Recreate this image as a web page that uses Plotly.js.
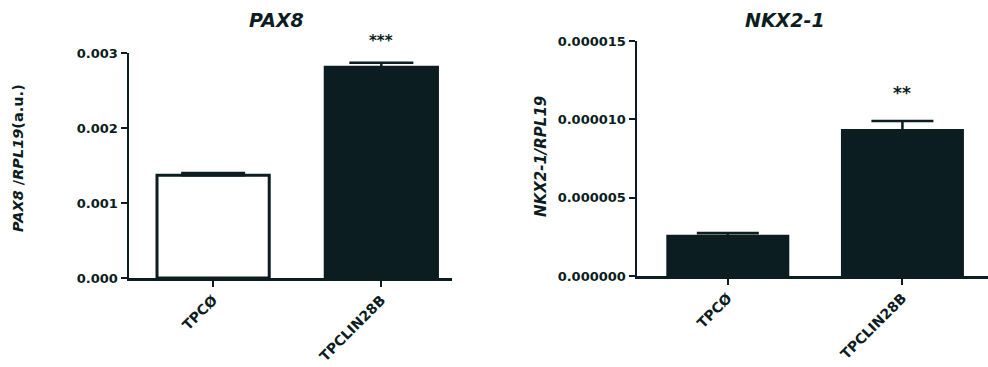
<!DOCTYPE html>
<html>
<head>
<meta charset="utf-8">
<script src="https://cdn.plot.ly/plotly-3.0.1.min.js"></script>
<style>html,body{margin:0;padding:0;background:#fff;}#chart{width:988px;height:367px;}</style>
</head>
<body>
<div id="chart"></div>
<script>
const categories = ["TPCØ", "TPCLIN28B"];
const pax8Values = [0.00137, 0.00281];
const pax8Errors = [0.00003, 0.00006];
const nkxValues = [0.00000255, 0.0000093];
const nkxErrors = [0.0000002, 0.0000006];
const pax8Sig = ["", "***"];
const nkxSig = ["", "**"];
const pax8StarY = [null, 0.00316];
const nkxStarY = [null, 0.0000117];
const pax8Max = 0.003;
const nkxMax = 0.000015;

const dark = "#0c1d21";
const font = "DejaVu Sans, Arial, sans-serif";

const traces = [
  {
    type: "bar", x: categories, y: pax8Values, xaxis: "x", yaxis: "y",
    width: 0.667,
    marker: {color: ["#ffffff", dark], line: {color: dark, width: 3}},
    error_y: {type: "data", symmetric: false, array: pax8Errors, arrayminus: [0, 0], color: dark, thickness: 2.5, width: 32},
    hoverinfo: "none"
  },
  {
    type: "bar", x: categories, y: nkxValues, xaxis: "x2", yaxis: "y2",
    width: 0.69,
    marker: {color: [dark, dark], line: {color: dark, width: 2.5}},
    error_y: {type: "data", symmetric: false, array: nkxErrors, arrayminus: [0, 0], color: dark, thickness: 2.5, width: 31},
    hoverinfo: "none"
  }
];

const annotations = [];
categories.forEach((c, i) => {
  if (pax8Sig[i]) annotations.push({xref: "x", yref: "y domain", x: c, y: pax8StarY[i] / pax8Max, xanchor: "center", yanchor: "middle", text: "<b>" + pax8Sig[i] + "</b>", showarrow: false, font: {family: font, size: 15, color: dark}});
  if (nkxSig[i]) annotations.push({xref: "x2", yref: "y2 domain", x: c, y: nkxStarY[i] / nkxMax, xanchor: "center", yanchor: "middle", text: "<b>" + nkxSig[i] + "</b>", showarrow: false, font: {family: font, size: 17, color: dark}});
});
annotations.push(
  {xref: "paper", yref: "paper", x: 276/988, y: 1 - 20/367, xanchor: "center", yanchor: "middle", text: "<b><i>PAX8</i></b>", showarrow: false, font: {family: font, size: 19, color: dark}},
  {xref: "paper", yref: "paper", x: 785/988, y: 1 - 20/367, xanchor: "center", yanchor: "middle", text: "<b><i>NKX2-1</i></b>", showarrow: false, font: {family: font, size: 19, color: dark}},
  {xref: "paper", yref: "paper", x: 18/988, y: 1 - 158/367, xanchor: "center", yanchor: "middle", text: "<b><i>PAX8</i> /<i>RPL19</i>(a.u.)</b>", textangle: -90, showarrow: false, font: {family: font, size: 14.5, color: dark}},
  {xref: "paper", yref: "paper", x: 541/988, y: 1 - 157/367, xanchor: "center", yanchor: "middle", text: "<b><i>NKX2-1/RPL19</i></b>", textangle: -90, showarrow: false, font: {family: font, size: 15, color: dark}}
);

const tickFont = {family: font, size: 13, color: dark, weight: "bold"};
const axisCommon = {showgrid: false, zeroline: false, showline: true, linecolor: dark, linewidth: 2.5, ticks: "outside", tickcolor: dark, tickwidth: 2, ticklen: 6, tickfont: tickFont, automargin: false, fixedrange: true};

const layout = {
  width: 988, height: 367,
  margin: {l: 0, r: 0, t: 0, b: 0},
  paper_bgcolor: "#ffffff", plot_bgcolor: "#ffffff",
  showlegend: false,
  xaxis: Object.assign({}, axisCommon, {domain: [129/988, 452/988], range: [-0.5, 1.42], anchor: "y", tickangle: -45, tickfont: Object.assign({}, tickFont, {size: 14})}),
  yaxis: Object.assign({}, axisCommon, {domain: [1 - 278/367, 1 - 53/367], range: [0, pax8Max], anchor: "x", tickvals: [0, 0.001, 0.002, 0.003], tickformat: ".3f"}),
  xaxis2: Object.assign({}, axisCommon, {domain: [637/988, 1], range: [-0.52, 1.49], anchor: "y2", tickangle: -45, tickfont: Object.assign({}, tickFont, {size: 14})}),
  yaxis2: Object.assign({}, axisCommon, {domain: [1 - 276/367, 1 - 41/367], range: [0, nkxMax], anchor: "x2", tickvals: [0, 0.000005, 0.00001, 0.000015], tickformat: ".6f"}),
  annotations: annotations
};

Plotly.newPlot("chart", traces, layout, {displayModeBar: false, staticPlot: true});
</script>
</body>
</html>
